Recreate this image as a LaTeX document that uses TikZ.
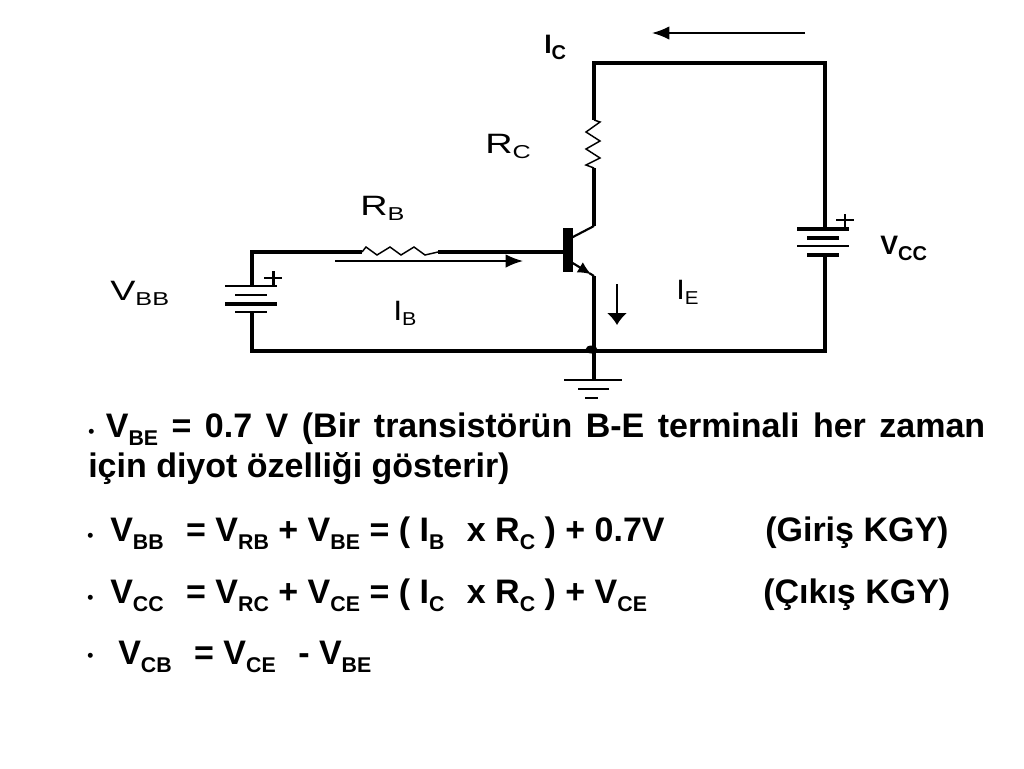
\documentclass[tikz,border=0pt]{standalone}
\usepackage{fontspec}
\setmainfont{Liberation Sans}
\usetikzlibrary{arrows.meta,positioning,calc,shapes.geometric}
\newcommand{\lowtxt}[1]{\raisebox{-6pt}{\fontsize{16}{16}\selectfont #1}}
\newcommand{\lowbold}[1]{\raisebox{-4.5pt}{\fontsize{15}{15}\selectfont #1}}
\newcommand{\lowthin}[1]{\raisebox{-0.2em}{\fontsize{14}{14}\selectfont #1}}
\newcommand{\widetxt}[1]{\scalebox{1.35}[1]{#1}}
\newcommand{\subgap}{\kern5.5pt\,\ }
\tikzset{
    wire/.style={line width=2.3pt},
    plate/.style={line width=1.2pt},
    thinplate/.style={line width=1pt},
    flow/.style={line width=1.2pt, -{Latex[length=13pt,width=10pt]}},
    flowdown/.style={line width=1.2pt, -{Latex[length=9pt,width=15pt]}},
    boldlabel/.style={font=\fontsize{20}{20}\selectfont\bfseries, inner sep=0pt},
    plainlabel/.style={font=\fontsize{21}{21}\selectfont, inner sep=0pt},
    eqn/.style={font=\fontsize{25.5}{25.5}\selectfont\bfseries, inner sep=0pt, anchor=base west},
    bulletdot/.style={font=\fontsize{13}{13}\selectfont\bfseries, inner sep=0pt, anchor=base west},
}
\begin{document}
\begin{tikzpicture}[x=0.75pt,y=-0.75pt]
    \useasboundingbox (0,0) rectangle (1024,768);

    % Corners of the loops
    \coordinate (TL) at (594,63);
    \coordinate (TR) at (825,63);
    \coordinate (BL) at (252,351);
    \coordinate (BR) at (825,351);
    \coordinate (J) at (594,351);
    \coordinate (LT) at (252,252);

    % Collector side
    \coordinate (Rc1) at (594,120);
    \coordinate (Rc2) at (594,168);
    \coordinate (Cc) at (594,226);
    \coordinate (Bc) at (571,238);
    \draw[wire] (Rc1) -- (TL) -- (TR) -- (825,229);
    \draw[line width=1.1pt] (Rc1) -- (600,122) -- (586,132) -- (600,141) -- (586,149) -- (600,158) -- (586,165) -- (Rc2);
    \draw[wire] (Rc2) -- (Cc);
    \draw[line width=1.6pt] (Cc) -- (Bc);

    % Base side
    \coordinate (Rb1) at (362,252);
    \coordinate (Rb2) at (438,252);
    \coordinate (Bb) at (565,252);
    \draw[wire] (252,286) -- (LT) -- (Rb1);
    \draw[line width=1.1pt] (Rb1) -- (366,247) -- (377,255) -- (390,247) -- (401,255) -- (414,247) -- (425,255) -- (Rb2);
    \draw[wire] (Rb2) -- (Bb);

    % Transistor bar and emitter
    \node[fill=black, minimum width=7.5pt, minimum height=33pt, inner sep=0pt] (bar) at (568,250) {};
    \coordinate (Be) at (571,262);
    \coordinate (Ce) at (594,276);
    \draw[line width=1.6pt, -{Latex[length=10pt,width=9pt]}] (Be) -- ($(Be)!0.88!(Ce)$);
    \draw[line width=1.6pt] ($(Be)!0.8!(Ce)$) -- (Ce);
    \draw[wire] (Ce) -- (J);

    % Bottom wire and ground
    \draw[wire] (252,312) -- (BL) -- (BR) -- (825,255);
    \node[fill=black, ellipse, minimum width=9pt, minimum height=6pt, inner sep=0pt] (dot) at (591.5,349.5) {};
    \coordinate (G) at (594,380);
    \draw[wire] (J) -- (G);
    \draw[plate] (564,380) -- (622,380);
    \draw[plate] (578,389) -- (609,389);
    \draw[plate] (585,398) -- (598,398);

    % Left battery
    \draw[plate] (225,286) -- (277,286);
    \draw[plate] (235,295) -- (267,295);
    \draw[wire] (225,304) -- (277,304);
    \draw[plate] (235,312) -- (267,312);
    \draw[line width=1.6pt] (264,278) -- (282,278);
    \draw[line width=1.6pt] (273.5,271) -- (273.5,285);

    % Right battery
    \draw[wire] (797,229) -- (849,229);
    \draw[wire] (807,238) -- (839,238);
    \draw[thinplate] (797,246) -- (849,246);
    \draw[wire] (807,255) -- (839,255);
    \draw[thinplate] (836,220) -- (854,220);
    \draw[line width=1.6pt] (845,214) -- (845,227);

    % Current arrows
    \coordinate (Ica) at (805,33);
    \coordinate (Icb) at (652,33);
    \coordinate (Iba) at (335,261);
    \coordinate (Ibb) at (523,261);
    \coordinate (Iea) at (617,284);
    \coordinate (Ieb) at (617,325);
    \draw[flow] (Ica) -- (Icb);
    \draw[flow] (Iba) -- (Ibb);
    \draw[flowdown] (Iea) -- (Ieb);

    % Circuit labels
    \node[boldlabel, anchor=base west] (Ic) at (544,53) {I\lowbold{C}};
    \node[boldlabel, anchor=base west] (Vcc) at (880,254) {V\lowbold{CC}};
    \node[plainlabel, anchor=base west] (Rc) at (485,153) {\widetxt{R\lowthin{C}}};
    \node[plainlabel, anchor=base west] (Rb) at (360,215) {\widetxt{R\lowthin{B}}};
    \node[plainlabel, anchor=base west] (Vbb) at (110,300) {\widetxt{V\lowthin{BB}}};
    \node[plainlabel, anchor=base west] (Ib) at (393,320) {\scalebox{1.15}[1]{I\lowthin{B}}};
    \node[plainlabel, anchor=base west] (Ie) at (676,299) {\scalebox{1.1}[1]{I\lowthin{E}}};

    % Equations
    \node[font=\fontsize{25.5}{30}\selectfont\bfseries, inner sep=0pt, anchor=north west, align=justify, text width=672.75pt] (eq1) at (88,413)
        {{\fontsize{13}{13}\selectfont •}\kern-1.5pt{} V\lowtxt{BE} = 0.7 V (Bir transistörün B-E terminali her zaman\linebreak için diyot özelliği gösterir)};
    \node[bulletdot] (dot2) at (87,541) {•};
    \node[eqn] (eq2) at (110,541) {V\lowtxt{BB}\subgap = V\lowtxt{RB} + V\lowtxt{BE} = ( I\lowtxt{B}\subgap x R\lowtxt{C} ) + 0.7V};
    \node[eqn] (kgy1) at (765,541) {(Giriş KGY)};
    \node[bulletdot] (dot3) at (87,603) {•};
    \node[eqn] (eq3) at (110,603) {V\lowtxt{CC}\subgap = V\lowtxt{RC} + V\lowtxt{CE} = ( I\lowtxt{C}\subgap x R\lowtxt{C} ) + V\lowtxt{CE}};
    \node[eqn] (kgy2) at (763,603) {(Çıkış KGY)};
    \node[bulletdot] (dot4) at (87,661) {•};
    \node[eqn] (eq4) at (118,664) {V\lowtxt{CB}\subgap = V\lowtxt{CE}\subgap - V\lowtxt{BE}};
\end{tikzpicture}
\end{document}
